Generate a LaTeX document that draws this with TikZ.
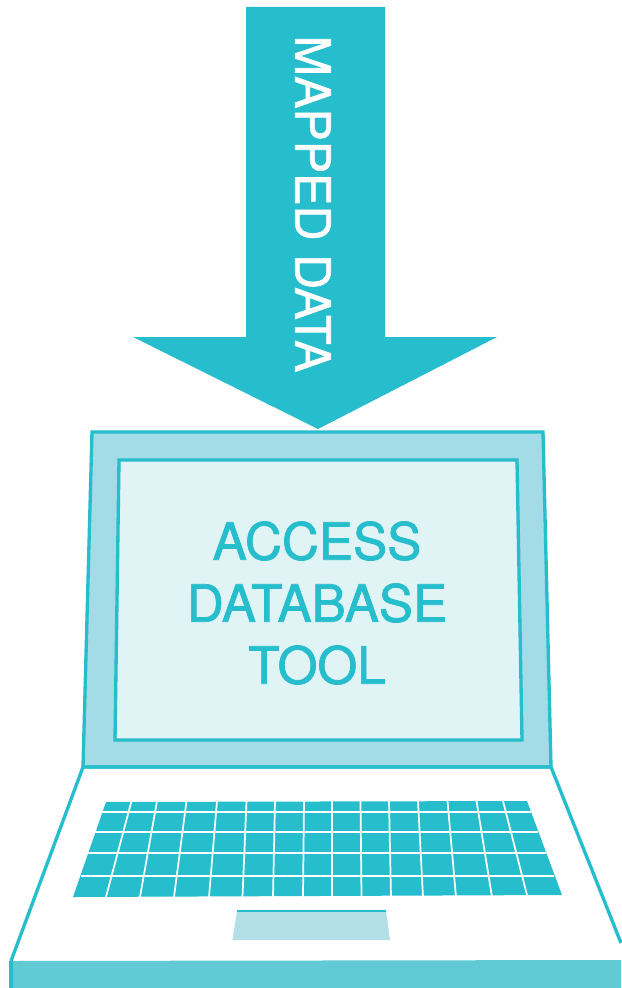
\documentclass[tikz,border=0pt]{standalone}
\usepackage{fontspec}
\setmainfont{TeX Gyre Heros}[BoldFont=TeX Gyre Heros, BoldFeatures={FakeBold=1.4}]
\definecolor{teal1}{HTML}{26BDCC}
\definecolor{bezel}{HTML}{A3DCE6}
\definecolor{screen}{HTML}{E0F3F5}
\definecolor{band}{HTML}{62CAD5}
\definecolor{pad}{HTML}{B3E0E6}
\begin{document}
\begin{tikzpicture}[x=0.75pt, y=-0.75pt, outline/.style={draw=teal1, line width=2.5pt, line join=miter}, keygap/.style={draw=white, line width=1.3pt}, label/.style={text=teal1, font=\fontsize{38.4}{39}\selectfont\bfseries, inner sep=0pt}]
        \useasboundingbox (0,0) rectangle (621,988);
        % arrow
        \fill[teal1] (246,7) -- (385,7) -- (385,337) -- (497,337) -- (318,429) -- (133,337) -- (246,337) -- cycle;
        \node[rotate=-90, text=white, font=\fontsize{36.4}{39}\selectfont\bfseries, inner sep=0pt] (mapped) at (313,204) {MAPPED DATA};
        % screen
        \draw[outline, fill=bezel] (92,432) -- (543,432) -- (551,767) -- (83,767) -- cycle;
        \draw[outline, fill=screen] (119,460) -- (517,460) -- (522,740) -- (115,740) -- cycle;
        \node[label] (access) at (317,541) {ACCESS};
        \node[label] (database) at (317,603) {DATABASE};
        \node[label] (tool) at (317,665) {TOOL};
        % base
        \draw[outline] (621,943) -- (551,767) -- (83,767) -- (11,961);
        \fill[band] (11,961) -- (621,960) -- (621,988) -- (11,988) -- cycle;
        \draw[outline] (11,961) -- (11,988);
        % keyboard
        \fill[teal1] (106,802) -- (527,801) -- (562,895) -- (73,897) -- cycle;
        \foreach \topx/\botx in {131.5/106, 157/140, 186.5/174, 217/209, 246.5/242.5, 275/273, 304/303, 332/332, 360.5/361.5, 389/391, 418/423, 447.5/456, 476.5/492, 503/527.5}
            \draw[keygap] (\topx,801) -- (\botx,897);
        \foreach \ly/\lx/\rx in {812.3/102/531, 831.7/95/537.5, 853.3/87/545.5, 875.7/80.5/554}
            \draw[keygap] (\lx,\ly) -- (\rx,\ly);
        % touchpad
        \fill[pad] (237,911) -- (386,911) -- (390,940) -- (232.5,940) -- cycle;
        \draw[draw=teal1, line width=1pt] (237,911) -- (386,911);
    \end{tikzpicture}
\end{document}
